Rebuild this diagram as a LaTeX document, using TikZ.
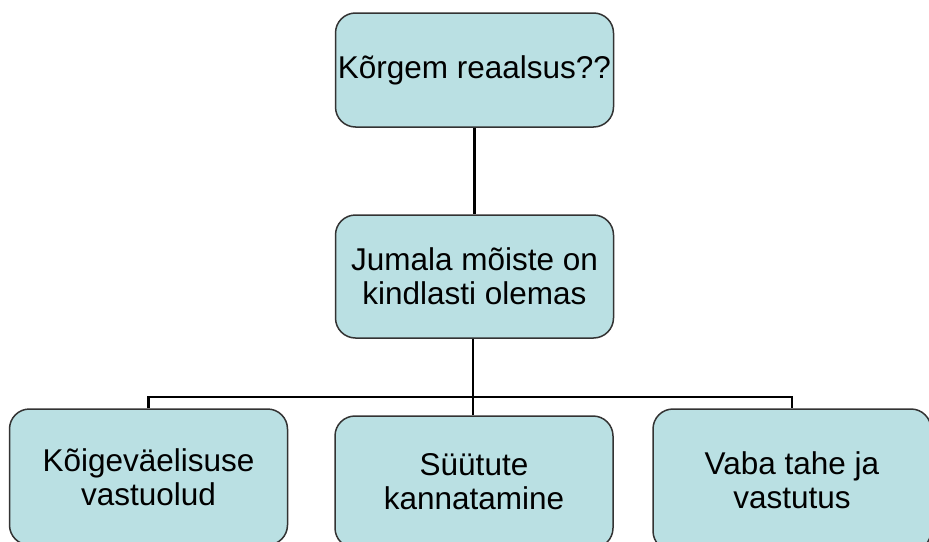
\documentclass[tikz,border=0pt]{standalone}
\usepackage{fontspec}
\setmainfont{Liberation Sans}
\definecolor{boxfill}{HTML}{BAE0E3}
\definecolor{boxedge}{HTML}{333333}
\begin{document}
\begin{tikzpicture}[
  x=1pt, y=-1pt,
  box/.style={rectangle, rounded corners=20pt, draw=boxedge, fill=boxfill, line width=1.5pt,
    minimum width=278pt, inner xsep=0pt, align=center, font=\fontsize{31.5}{34}\selectfont},
  link/.style={line width=2.8pt, black}
]
\clip (0,0) rectangle (929,541);
\node[box, minimum height=114pt] (top) at (474.5,70) {Kõrgem reaalsus??};
\node[box, minimum height=123pt] (god) at (474.5,276.5) {Jumala mõiste on\\kindlasti olemas};
\node[box, minimum height=136pt] (left) at (148.5,477) {Kõigeväelisuse\\vastuolud};
\node[box, minimum height=132pt] (mid) at (474,482) {Süütute\\kannatamine};
\node[box, minimum height=142pt] (right) at (792,480) {Vaba tahe ja\\vastutus};

\coordinate (bus) at (473,397);

\draw[link] (top) -- (god);
\draw[link] (god.south -| bus) -- (bus);
\draw[link] (left.north) -- (left.north |- bus) -- (right.north |- bus) -- (right.north);
\draw[link] (bus) -- (mid.north -| bus);
\end{tikzpicture}
\end{document}
